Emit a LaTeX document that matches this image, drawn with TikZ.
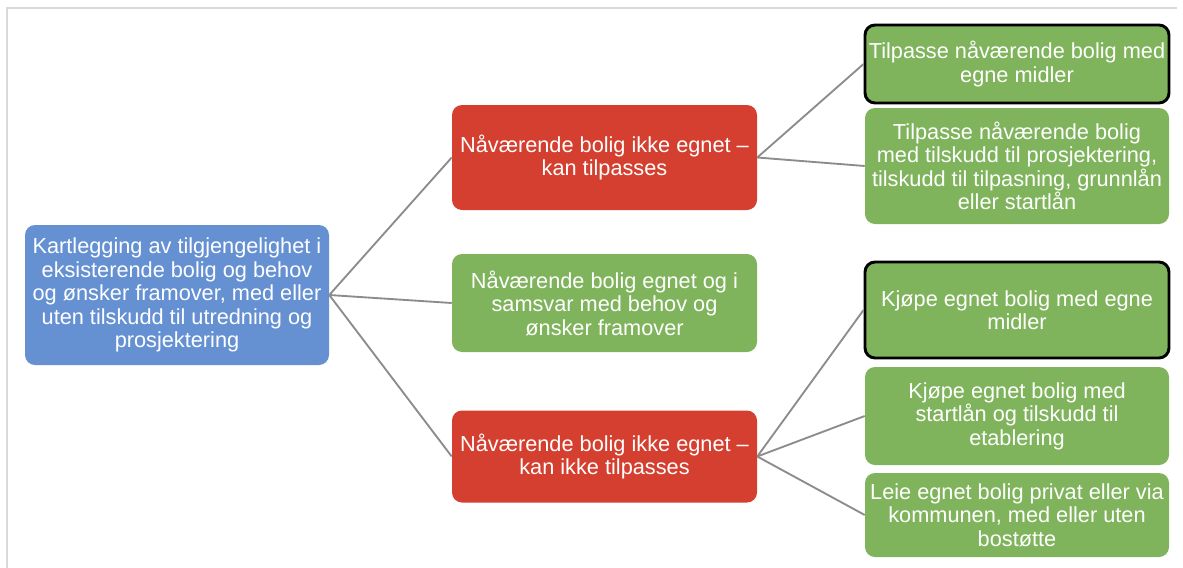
\documentclass[tikz,border=0pt]{standalone}
\usepackage{fontspec}
\setmainfont{Liberation Sans}
\definecolor{rootblue}{HTML}{6591D3}
\definecolor{boxred}{HTML}{D43F2F}
\definecolor{boxgreen}{HTML}{7FB45C}
\definecolor{linkgray}{HTML}{8C8C8C}
\definecolor{framegray}{HTML}{D9D9D9}
\tikzset{
  card/.style={rounded corners=7.5pt, text=white, align=center, inner sep=0pt,
    font=\fontsize{16.3pt}{17.6pt}\selectfont},
  rootcard/.style={card, fill=rootblue},
  redcard/.style={card, fill=boxred, minimum width=228.75pt},
  greencard/.style={card, fill=boxgreen},
  optcard/.style={greencard, minimum width=228pt},
  strongcard/.style={optcard, draw=black, line width=2.2pt},
  link/.style={draw=linkgray, line width=1.4pt},
}
\begin{document}
\begin{tikzpicture}[x=0.75pt, y=-0.75pt]
\useasboundingbox (0,0) rectangle (1183,568);
% page frame
\draw[framegray, line width=1.5pt] (7,568) coordinate (fa) -- (7,8) coordinate (fb) -- (1177,8) coordinate (fc);

% root
\node[rootcard, minimum width=228pt, minimum height=105pt] (root) at (177,295)
  {Kartlegging av tilgjengelighet i\\eksisterende bolig og behov\\og ønsker framover, med eller\\uten tilskudd til utredning og\\prosjektering};

% middle column
\node[redcard, minimum height=78.75pt] (adapt) at (604.5,157.5)
  {Nåværende bolig ikke egnet –\\kan tilpasses};
\node[greencard, minimum width=228.75pt, minimum height=73.5pt] (fits) at (604.5,303)
  {Nåværende bolig egnet og i\\samsvar med behov og\\ønsker framover};
\node[redcard, minimum height=69pt] (noadapt) at (604.5,456.5)
  {Nåværende bolig ikke egnet –\\kan ikke tilpasses};

% right column
\node[strongcard, minimum height=58.5pt] (o1) at (1017,64)
  {Tilpasse nåværende bolig med\\egne midler};
\node[optcard, minimum height=87pt] (o2) at (1017,166)
  {Tilpasse nåværende bolig\\med tilskudd til prosjektering,\\tilskudd til tilpasning, grunnlån\\eller startlån};
\node[strongcard, minimum height=72pt] (o3) at (1017,310)
  {Kjøpe egnet bolig med egne\\midler};
\node[optcard, minimum height=73.5pt] (o4) at (1017,416)
  {Kjøpe egnet bolig med\\startlån og tilskudd til\\etablering};
\node[optcard, minimum height=63pt] (o5) at (1017,515)
  {Leie egnet bolig privat eller via\\kommunen, med eller uten\\bostøtte};

% connectors
\draw[link] (root.east) -- (adapt.west);
\draw[link] (root.east) -- (fits.west);
\draw[link] (root.east) -- (noadapt.west);
\draw[link] (adapt.east) -- (o1.west);
\draw[link] (adapt.east) -- (o2.west);
\draw[link] (noadapt.east) -- (o3.west);
\draw[link] (noadapt.east) -- (o4.west);
\draw[link] (noadapt.east) -- (o5.west);
\end{tikzpicture}
\end{document}
